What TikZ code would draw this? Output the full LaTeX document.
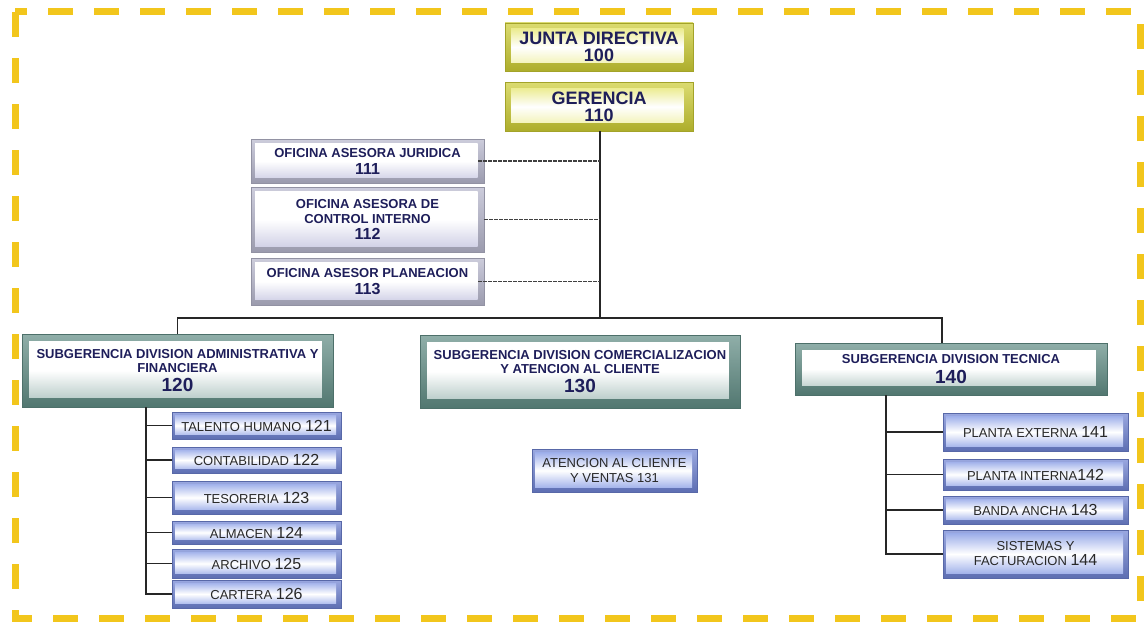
\documentclass[tikz,border=0pt]{standalone}
\usepackage{fontspec}
\setmainfont{Liberation Sans}

\definecolor{frameyellow}{RGB}{242,198,28}
\definecolor{yedge}{RGB}{204,204,51}
\definecolor{yface}{RGB}{230,230,110}
\definecolor{tedge}{RGB}{96,140,132}
\definecolor{tface}{RGB}{166,190,186}
\definecolor{gedge}{RGB}{182,182,204}
\definecolor{gface}{RGB}{200,200,226}
\definecolor{bedge}{RGB}{110,130,210}
\definecolor{bface}{RGB}{140,160,230}
\definecolor{navy}{RGB}{30,30,90}
\definecolor{inkgray}{RGB}{40,40,40}

\begin{document}
\begin{tikzpicture}[x=1pt, y=-1pt,
    bevel/.style n args={4}{top color=#1!70!white, bottom color=#1!85!black,
      draw=#1!80!black, line width=0.5pt, inner sep=0pt,
      path picture={\shade[top color=#2, bottom color=#3, middle color=white]
        ([shift={(#4,-#4)}]path picture bounding box.north west) rectangle
        ([shift={(-1.6*#4,1.4*#4)}]path picture bounding box.south east);}},
    topbox/.style={bevel={yedge}{yface}{yface!70}{6pt}, minimum width=188pt,
      text=navy, font=\fontsize{18}{17}\selectfont\bfseries, align=center},
    advbox/.style={bevel={gedge}{white}{gface}{4pt}, minimum width=233pt,
      text=navy, font=\fontsize{13}{15}\selectfont\bfseries, align=center},
    divbox/.style={bevel={tedge}{white}{tface}{7pt}, text=navy,
      font=\fontsize{13}{14}\selectfont\bfseries, align=center},
    unitbox/.style={bevel={bedge}{bface}{bface}{3pt}, text=inkgray,
      font=\fontsize{13}{15}\selectfont, align=center},
    link/.style={line width=1.3pt, black!85},
    advlink/.style={line width=1.3pt, black!75, dash pattern=on 3.5pt off 1.5pt}
  ]
  \useasboundingbox (0,0) rectangle (1148,626);

  % frame
  \draw[frameyellow, line width=7pt, dash pattern=on 25pt off 21pt] (15,12) rectangle (1140,618);

  % top
  \node[topbox, minimum height=48pt] (junta) at (599,47) {JUNTA DIRECTIVA\\100};
  \node[topbox, minimum height=49pt] (gerencia) at (599,106.5) {GERENCIA\\110};

  % advisory offices
  \node[advbox, minimum height=44pt] (of_jur) at (367.5,161)
    {OFICINA ASESORA JURIDICA\\[2pt]{\fontsize{16}{17}\selectfont 111}};
  \node[advbox, minimum height=65pt] (of_ctrl) at (367.5,219.5)
    {OFICINA ASESORA DE\\CONTROL INTERNO\\[1pt]{\fontsize{16}{17}\selectfont 112}};
  \node[advbox, minimum height=47pt] (of_plan) at (367.5,281.5)
    {OFICINA ASESOR PLANEACION\\[2pt]{\fontsize{16}{17}\selectfont 113}};

  % divisions
  \node[divbox, minimum width=311pt, minimum height=73pt] (adm) at (177.5,370.5)
    {SUBGERENCIA DIVISION ADMINISTRATIVA Y\\FINANCIERA\\[5pt]{\fontsize{19}{20}\selectfont 120}};
  \node[divbox, minimum width=320pt, minimum height=73pt] (com) at (580,371.5)
    {SUBGERENCIA DIVISION COMERCIALIZACION\\Y ATENCION AL CLIENTE\\[5pt]{\fontsize{19}{20}\selectfont 130}};
  \node[divbox, minimum width=312pt, minimum height=52pt] (tec) at (951,369)
    {SUBGERENCIA DIVISION TECNICA\\[6pt]{\fontsize{19}{20}\selectfont 140}};

  % units of 120
  \node[unitbox, minimum width=169pt, minimum height=27pt] (talento) at (256.5,425.5)
    {TALENTO HUMANO {\fontsize{16}{15}\selectfont 121}};
  \node[unitbox, minimum width=169pt, minimum height=26pt] (conta) at (256.5,460)
    {CONTABILIDAD {\fontsize{16}{15}\selectfont 122}};
  \node[unitbox, minimum width=169pt, minimum height=33pt] (teso) at (256.5,497.5)
    {TESORERIA {\fontsize{16}{15}\selectfont 123}};
  \node[unitbox, minimum width=169pt, minimum height=23pt] (almacen) at (256.5,532.5)
    {ALMACEN {\fontsize{16}{15}\selectfont 124}};
  \node[unitbox, minimum width=169pt, minimum height=29pt] (archivo) at (256.5,563.5)
    {ARCHIVO {\fontsize{16}{15}\selectfont 125}};
  \node[unitbox, minimum width=169pt, minimum height=28pt] (cartera) at (256.5,594)
    {CARTERA {\fontsize{16}{15}\selectfont 126}};

  % unit of 130
  \node[unitbox, minimum width=165pt, minimum height=43pt] (ventas) at (614.5,470.5)
    {ATENCION AL CLIENTE\\Y VENTAS 131};

  % units of 140
  \node[unitbox, minimum width=185pt, minimum height=38pt] (p_ext) at (1035.5,432)
    {PLANTA EXTERNA {\fontsize{16}{15}\selectfont 141}};
  \node[unitbox, minimum width=185pt, minimum height=31pt] (p_int) at (1035.5,474.5)
    {PLANTA INTERNA{\fontsize{16}{15}\selectfont 142}};
  \node[unitbox, minimum width=185pt, minimum height=28pt] (banda) at (1035.5,510)
    {BANDA ANCHA {\fontsize{16}{15}\selectfont 143}};
  \node[unitbox, minimum width=185pt, minimum height=48pt] (sistemas) at (1035.5,554)
    {SISTEMAS Y\\FACTURACION {\fontsize{16}{15}\selectfont 144}};

  % helper points
  \coordinate (bus) at (600,318);
  \coordinate (adm_spine) at (146,407);
  \coordinate (tec_spine) at (886,395);

  % connectors
  \draw[link] (gerencia.south -| bus) -- (bus);
  \draw[link] (adm.north) -- (adm.north |- bus) -- ([xshift=-9pt]tec.north |- bus) -- ([xshift=-9pt]tec.north);
  \draw[advlink] ([xshift=-6pt]of_jur.east) -- (of_jur.east -| bus);
  \draw[advlink] (of_ctrl.east) -- (of_ctrl.east -| bus);
  \draw[advlink] ([xshift=-6pt]of_plan.east) -- (of_plan.east -| bus);

  \draw[link] (adm_spine) |- (cartera.west);
  \draw[link] (adm_spine |- talento.west) -- (talento.west);
  \draw[link] (adm_spine |- conta.west) -- (conta.west);
  \draw[link] (adm_spine |- teso.west) -- (teso.west);
  \draw[link] (adm_spine |- almacen.west) -- (almacen.west);
  \draw[link] (adm_spine |- archivo.west) -- (archivo.west);

  \draw[link] (tec_spine) |- (sistemas.west);
  \draw[link] (tec_spine |- p_ext.west) -- (p_ext.west);
  \draw[link] (tec_spine |- p_int.west) -- (p_int.west);
  \draw[link] (tec_spine |- banda.west) -- (banda.west);
\end{tikzpicture}
\end{document}
